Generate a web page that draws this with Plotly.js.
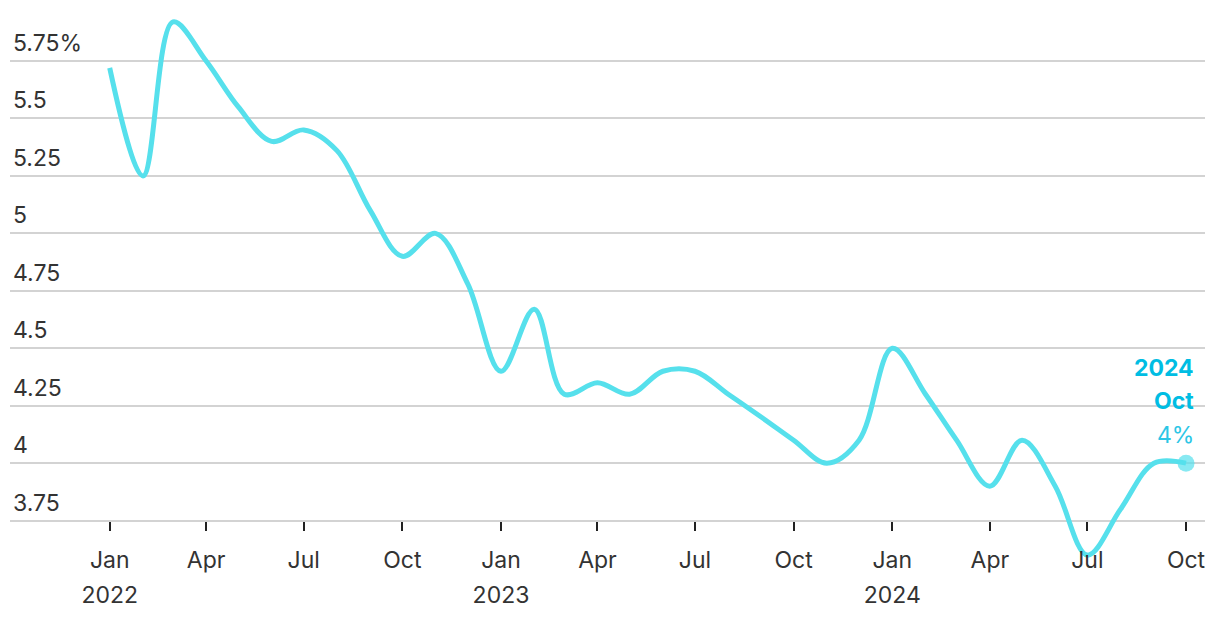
<!DOCTYPE html>
<html>
<head>
<meta charset="utf-8">
<script src="https://cdn.plot.ly/plotly-3.0.1.min.js"></script>
<style>html,body{margin:0;padding:0;background:#fff;}#chart{width:1220px;height:622px;}</style>
</head>
<body>
<div id="chart"></div>
<script>
const months = ["2022-01-01","2022-02-01","2022-03-01","2022-04-01","2022-05-01","2022-06-01","2022-07-01","2022-08-01","2022-09-01","2022-10-01","2022-11-01","2022-12-01",
"2023-01-01","2023-02-01","2023-03-01","2023-04-01","2023-05-01","2023-06-01","2023-07-01","2023-08-01","2023-09-01","2023-10-01","2023-11-01","2023-12-01",
"2024-01-01","2024-02-01","2024-03-01","2024-04-01","2024-05-01","2024-06-01","2024-07-01","2024-08-01","2024-09-01","2024-10-01"];
const rates = [5.72,5.25,5.92,5.75,5.55,5.4,5.45,5.36,5.1,4.9,5.0,4.78,
4.4,4.67,4.3,4.35,4.3,4.4,4.4,4.3,4.2,4.1,4.0,4.1,
4.5,4.3,4.1,3.9,4.1,3.9,3.6,3.8,4.0,4.0];
const xTickVals = ["2022-01-01","2022-04-01","2022-07-01","2022-10-01","2023-01-01","2023-04-01","2023-07-01","2023-10-01","2024-01-01","2024-04-01","2024-07-01","2024-10-01"];
const xTickText = ["Jan","Apr","Jul","Oct","Jan","Apr","Jul","Oct","Jan","Apr","Jul","Oct"];
const yearTickVals = ["2022-01-01","2023-01-01","2024-01-01"];
const yearTickText = ["2022","2023","2024"];
const yTickVals = [3.75,4,4.25,4.5,4.75,5,5.25,5.5,5.75];
const yTickText = ["3.75","4","4.25","4.5","4.75","5","5.25","5.5","5.75%"];
const lastLabel = ["2024","Oct","4%"];

const yMin = 3.57, yMax = 5.95;
const xRange = ["2021-09-30", "2024-10-18T17:00"];
const font = "Inter, 'Open Sans', sans-serif";
const n = months.length - 1;
const axisPos = (3.75 - yMin) / (yMax - yMin);

const traces = [
  {x: months, y: rates, type: "scatter", mode: "lines",
   line: {color: "#56e0ec", width: 5, shape: "spline", smoothing: 1.0},
   hoverinfo: "skip", showlegend: false},
  {x: [months[n]], y: [rates[n]], type: "scatter", mode: "markers",
   marker: {color: "rgba(86,224,236,0.7)", size: 17}, cliponaxis: false,
   hoverinfo: "skip", showlegend: false},
  {x: [months[0]], y: [rates[0]], xaxis: "x2", type: "scatter", mode: "none",
   hoverinfo: "skip", showlegend: false}
];

const layout = {
  width: 1220, height: 622,
  margin: {l: 10, r: 15, t: 15, b: 60},
  paper_bgcolor: "#fff", plot_bgcolor: "#fff",
  font: {family: font, size: 23, color: "#333"},
  xaxis: {type: "date", range: xRange,
    tickvals: xTickVals, ticktext: xTickText, showgrid: false, zeroline: false,
    ticks: "outside", ticklen: 9, tickwidth: 2, tickcolor: "#222",
    anchor: "free", position: axisPos, ticklabelstandoff: 10,
    showline: false, tickfont: {family: font, size: 23, color: "#333"}, fixedrange: true},
  xaxis2: {type: "date", range: xRange, overlaying: "x", side: "bottom",
    tickvals: yearTickVals, ticktext: yearTickText, showgrid: false, zeroline: false,
    ticks: "", anchor: "free", position: axisPos, ticklabelstandoff: 58,
    showline: false, tickfont: {family: font, size: 23, color: "#333"}, fixedrange: true},
  yaxis: {range: [yMin, yMax], tickvals: yTickVals, ticktext: yTickText,
    showgrid: true, gridcolor: "#d3d3d3", gridwidth: 2, zeroline: false,
    ticklabelposition: "inside top", ticks: "", showline: false, ticklabelshift: -2,
    tickfont: {family: font, size: 23, color: "#333"}, fixedrange: true},
  annotations: [
    {x: months[n], y: rates[n], xref: "x", yref: "y", xanchor: "right", yanchor: "middle",
     xshift: 10, yshift: 95, showarrow: false, text: "<b>" + lastLabel[0] + "</b>",
     font: {family: font, size: 23, color: "#00bde3"}},
    {x: months[n], y: rates[n], xref: "x", yref: "y", xanchor: "right", yanchor: "middle",
     xshift: 10, yshift: 62, showarrow: false, text: "<b>" + lastLabel[1] + "</b>",
     font: {family: font, size: 23, color: "#00bde3"}},
    {x: months[n], y: rates[n], xref: "x", yref: "y", xanchor: "right", yanchor: "middle",
     xshift: 10, yshift: 28, showarrow: false, text: lastLabel[2],
     font: {family: font, size: 23, color: "#2cc6e6"}}
  ]
};
Plotly.newPlot("chart", traces, layout, {displayModeBar: false, staticPlot: true});
</script>
</body>
</html>
